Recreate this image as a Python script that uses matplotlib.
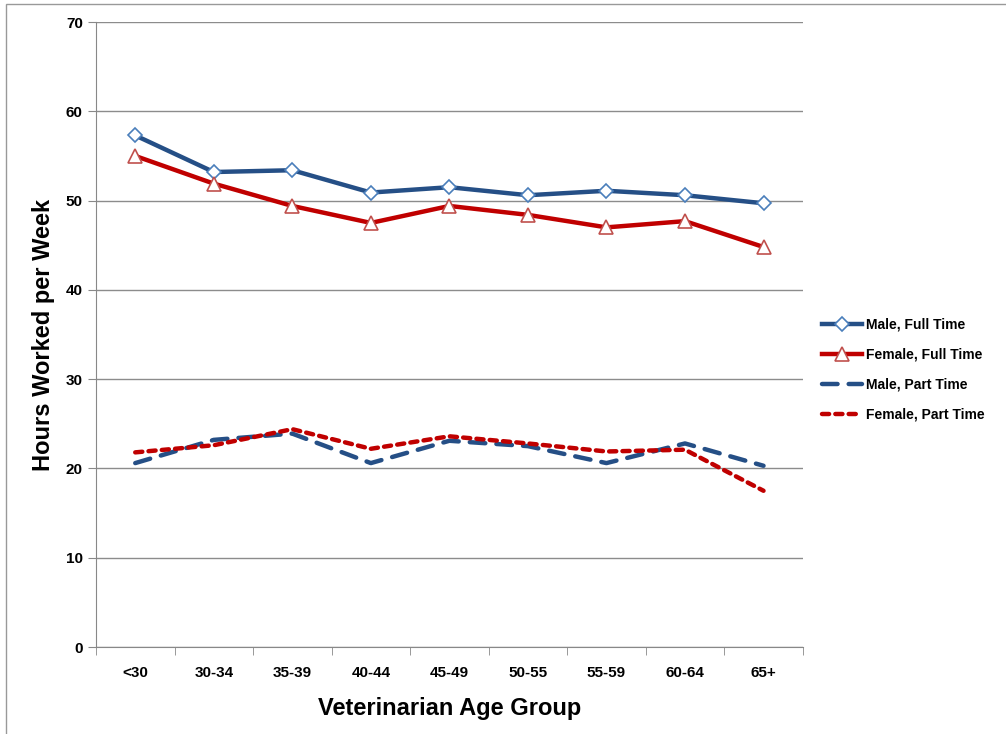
import matplotlib.pyplot as plt
from matplotlib.patches import Rectangle

plt.rcParams['font.family'] = ['Liberation Sans', 'DejaVu Sans']

age_groups = ['<30', '30-34', '35-39', '40-44', '45-49', '50-55', '55-59', '60-64', '65+']
male_full = [57.3, 53.2, 53.4, 50.9, 51.5, 50.6, 51.1, 50.6, 49.7]
female_full = [55.0, 51.9, 49.4, 47.5, 49.4, 48.4, 47.0, 47.7, 44.8]
male_part = [20.6, 23.2, 23.9, 20.6, 23.1, 22.5, 20.6, 22.8, 20.3]
female_part = [21.8, 22.6, 24.4, 22.2, 23.6, 22.8, 21.9, 22.1, 17.5]

blue = '#254f86'
red = '#c00000'

fig = plt.figure(figsize=(10.06, 7.34), dpi=100)
ax = fig.add_axes([0.0954, 0.1185, 0.7026, 0.8515])

x = range(len(age_groups))
ax.plot(x, male_full, color=blue, lw=3.2, marker='D', ms=7.5, mfc='white',
        mec='#4a7ebb', mew=1.2, label='Male, Full Time', zorder=4)
ax.plot(x, female_full, color=red, lw=3.2, marker='^', ms=10, mfc='white',
        mec='#c0504d', mew=1.2, label='Female, Full Time', zorder=4)
ax.plot(x, male_part, color=blue, lw=3.2, dashes=(3.5, 2.5), dash_capstyle='round',
        label='Male, Part Time', zorder=3)
ax.plot(x, female_part, color=red, lw=3.2, dashes=(1.6, 1.4), dash_capstyle='round',
        label='Female, Part Time', zorder=3)

ax.set_xlim(-0.5, 8.5)
ax.set_ylim(0, 70)
ax.set_yticks(range(0, 71, 10))
ax.set_xticks(list(x))
ax.set_xticklabels(age_groups, fontsize=11, fontweight='bold')
ax.set_xticks([i - 0.5 for i in range(len(age_groups) + 1)], minor=True)
ax.tick_params(axis='x', which='major', length=0, pad=14)
ax.tick_params(axis='x', which='minor', length=6, color='#888888', direction='out')
ax.tick_params(axis='y', length=6, color='#888888', direction='out', labelsize=11)
for lab in ax.get_yticklabels():
    lab.set_fontweight('bold')

ax.grid(axis='y', color='#8c8c8c', lw=1)
ax.set_axisbelow(True)
for side in ['top', 'right']:
    ax.spines[side].set_visible(False)
for side in ['left', 'bottom']:
    ax.spines[side].set_color('#888888')

ax.set_xlabel('Veterinarian Age Group', fontsize=17, fontweight='bold', labelpad=12)
ax.set_ylabel('Hours Worked per Week', fontsize=17, fontweight='bold', labelpad=8)

fig.legend(loc='center left', bbox_to_anchor=(822 / 1006, 0.496), frameon=False,
           prop={'weight': 'bold', 'size': 10}, handlelength=2.9,
           handletextpad=0.3, labelspacing=1.15, borderpad=0, borderaxespad=0)

fig.patches.append(Rectangle((6 / 1006, -0.01), 1.1, 0.01 + (734 - 4) / 734,
                             transform=fig.transFigure, fill=False,
                             edgecolor='#999999', lw=1))

fig.savefig('out.png', dpi=100)
